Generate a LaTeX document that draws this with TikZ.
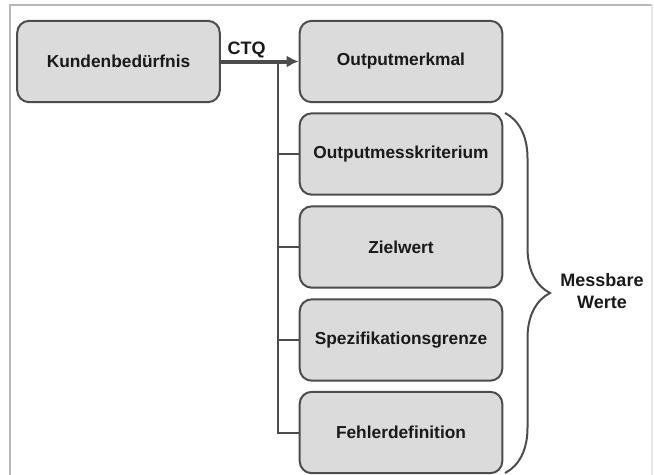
\documentclass[tikz,border=0pt]{standalone}
\usepackage{fontspec}
\setmainfont{Liberation Sans}
\usepackage{tikz}
\usetikzlibrary{arrows.meta,decorations.pathreplacing}
\definecolor{boxgray}{rgb}{0.86, 0.86, 0.86}
\definecolor{linegray}{rgb}{0.3, 0.3, 0.3}
\definecolor{framegray}{rgb}{0.72, 0.72, 0.72}
\tikzstyle{stufe}=[rectangle, rounded corners=9pt, draw=linegray, line width=1.5pt, fill=boxgray, minimum width=152pt, minimum height=61pt, text=black!90, font=\fontsize{13}{15}\selectfont\bfseries]
\tikzstyle{ast}=[draw=linegray, line width=1.5pt]
\tikzstyle{beschrift}=[text=black!90, font=\fontsize{13.5}{17}\selectfont\bfseries]

\begin{document}
\begin{tikzpicture}[x=0.75pt, y=-0.75pt]
					\useasboundingbox (0,0) rectangle (654,475);
					\draw[framegray, line width=1.2pt] (10,480) -- (10,5) -- (652,5);
					\draw[framegray!35, line width=1.2pt] (652,5) -- (652,480);
					\node[stufe] (kunde) at (118.5,61.5) {Kundenbedürfnis};
					\node[stufe] (merkmal) at (401,61.5) {Outputmerkmal};
					\foreach \n/\y/\t in {mess/154/Outputmesskriterium, ziel/247/Zielwert, spez/340/Spezifikationsgrenze, fehler/432.5/Fehlerdefinition}{
						\node[stufe] (\n) at (401,\y) {\t};
					}
					\coordinate (knick) at (278,61.5);
					\draw[ast] (knick) |- (fehler.west);
					\foreach \n in {mess, ziel, spez}{
						\draw[ast] (knick |- \n.west) -- (\n.west);
					}
					\draw[linegray, line width=3pt, -{Latex[length=9pt,width=9pt]}] (kunde.east) -- (merkmal.west)
						node[beschrift, pos=.33, anchor=base, yshift=5.6pt] (ctq) {CTQ};
					\coordinate (klammeroben) at (505,113);
					\coordinate (klammerunten) at (505,473);
					\draw[ast, decorate, decoration={brace, amplitude=33.75pt}] (klammeroben) -- (klammerunten);
					\node[beschrift, align=center] (werte) at (602,291) {Messbare\\Werte};
				\end{tikzpicture}
\end{document}
